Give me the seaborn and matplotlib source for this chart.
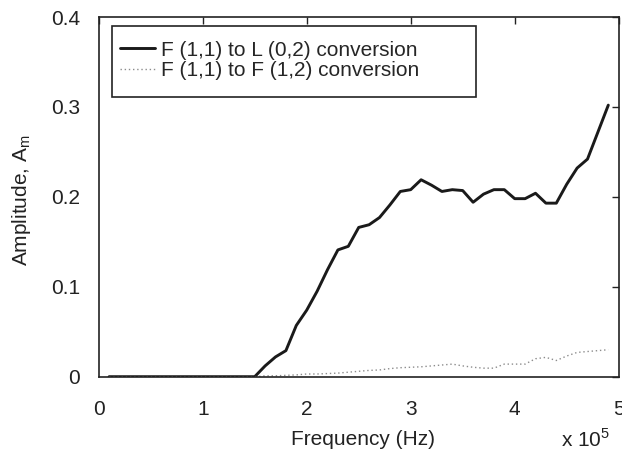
import pandas as pd
import matplotlib
matplotlib.use('Agg')
import matplotlib.pyplot as plt
from matplotlib.patches import Rectangle
import seaborn as sns

# frequency in units of 1e5 Hz
freq = [0.1, 0.2, 0.3, 0.4, 0.5, 0.6, 0.7, 0.8, 0.9, 1.0,
        1.1, 1.2, 1.3, 1.4, 1.5, 1.6, 1.7, 1.8, 1.9, 2.0,
        2.1, 2.2, 2.3, 2.4, 2.5, 2.6, 2.7, 2.8, 2.9, 3.0,
        3.1, 3.2, 3.3, 3.4, 3.5, 3.6, 3.7, 3.8, 3.9, 4.0,
        4.1, 4.2, 4.3, 4.4, 4.5, 4.6, 4.7, 4.8, 4.9]

# F(1,1) -> L(0,2)
amp_l02 = [0, 0, 0, 0, 0, 0, 0, 0, 0, 0,
           0, 0, 0, 0, 0, 0.012, 0.022, 0.029, 0.057, 0.074,
           0.095, 0.119, 0.141, 0.145, 0.166, 0.169, 0.177, 0.191, 0.206, 0.208,
           0.219, 0.213, 0.206, 0.208, 0.207, 0.194, 0.203, 0.208, 0.208, 0.198,
           0.198, 0.204, 0.193, 0.193, 0.214, 0.232, 0.242, 0.272, 0.302]

# F(1,1) -> F(1,2)
amp_f12 = [0, 0, 0, 0, 0, 0, 0, 0, 0, 0,
           0, 0, 0, 0, 0, 0.001, 0.001, 0.0015, 0.002, 0.003,
           0.003, 0.0035, 0.004, 0.005, 0.006, 0.007, 0.0075, 0.009, 0.010, 0.0105,
           0.011, 0.012, 0.013, 0.014, 0.012, 0.0105, 0.0095, 0.0095, 0.014, 0.014,
           0.014, 0.020, 0.0215, 0.018, 0.023, 0.027, 0.028, 0.029, 0.030]

labels = ['F (1,1) to L (0,2) conversion', 'F (1,1) to F (1,2) conversion']

sns.set_style('white')
plt.rcParams['font.family'] = ['Liberation Sans', 'DejaVu Sans']
plt.rcParams['xtick.direction'] = 'in'
plt.rcParams['ytick.direction'] = 'in'

df = pd.DataFrame({'freq': freq, 'l02': amp_l02, 'f12': amp_f12})

fig = plt.figure(figsize=(6.22, 4.55), dpi=100)
ax = fig.add_axes([0.1587, 0.1721, 0.836, 0.7905])

sns.lineplot(data=df, x='freq', y='l02', ax=ax, color='#1a1a1a', linewidth=2.1,
             label=labels[0])
sns.lineplot(data=df, x='freq', y='f12', ax=ax, color='#8c8c8c', linewidth=1.0,
             linestyle=(0, (1, 2)), label=labels[1])

ax.set_xlim(0, 5)
ax.set_ylim(0, 0.4)
ax.set_xticks([0, 1, 2, 3, 4, 5])
ax.set_yticks([0, 0.1, 0.2, 0.3, 0.4])
ax.set_xticklabels(['0', '1', '2', '3', '4', '5'])
ax.set_yticklabels(['0', '0.1', '0.2', '0.3', '0.4'])
ax.tick_params(axis='both', which='both', top=True, right=True, length=5,
               width=1, labelsize=15, colors='#222222')
ax.tick_params(axis='x', pad=17)
ax.tick_params(axis='y', pad=13.5)
for s in ax.spines.values():
    s.set_color('#222222')
    s.set_linewidth(1.2)

ax.set_xlabel('Frequency (Hz)', fontsize=15, color='#222222')
ax.xaxis.set_label_coords(0.508, -0.176)
ax.xaxis.label.set_verticalalignment('center')
ax.set_ylabel('Amplitude, A$_\\mathregular{m}$', fontsize=15, color='#222222')
ax.yaxis.set_label_coords(-0.148, 0.49)
ax.yaxis.label.set_verticalalignment('center')
ax.text(0.937, -0.176, 'x 10$^\\mathregular{5}$', transform=ax.transAxes,
        fontsize=15, color='#222222', ha='center', va='center')

# legend box drawn separately so its size matches the original
box = Rectangle((0.025, 0.777), 0.70, 0.198, transform=ax.transAxes,
                facecolor='white', edgecolor='#222222', linewidth=1.2, zorder=4)
ax.add_patch(box)
leg = ax.legend(loc='upper left', bbox_to_anchor=(0.0125, 0.975),
                fontsize=15, frameon=False, borderpad=0.7,
                handlelength=1.7, handletextpad=0.3, labelspacing=0.09,
                borderaxespad=0)
leg.set_zorder(5)

plt.savefig('out.png', dpi=100)
plt.close()
